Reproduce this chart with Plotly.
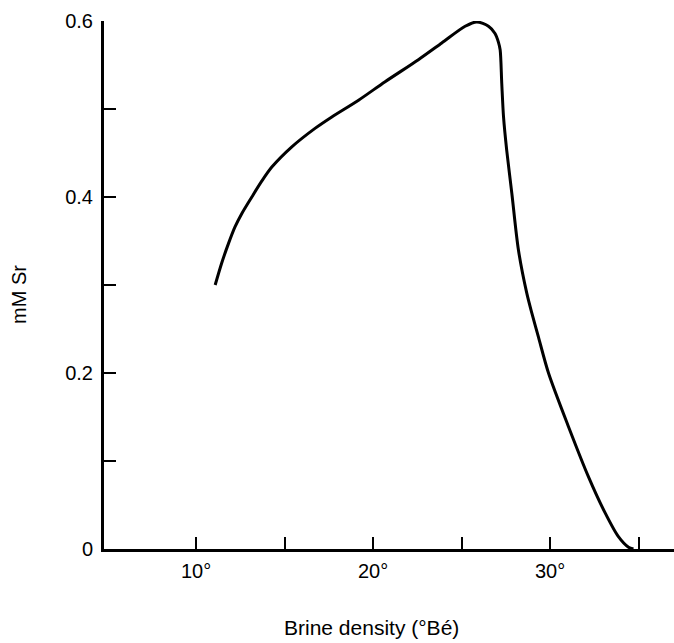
import plotly.graph_objects as go

# Curve (Brine density °Bé, mM Sr)
density = [11.08, 11.45, 11.83, 12.20, 12.58, 13.15, 13.71, 14.28, 15.41, 16.72,
           17.67, 19.18, 20.68, 22.56, 23.88, 25.20, 25.86, 26.52, 26.88, 27.08,
           27.18, 27.27, 27.37, 27.55, 27.84, 28.21, 28.68, 28.97, 29.34, 29.91,
           31.04, 32.17, 33.11, 33.86, 34.43, 34.71]
sr_mM = [0.300, 0.325, 0.347, 0.366, 0.381, 0.400, 0.418, 0.434, 0.457, 0.478,
         0.491, 0.510, 0.531, 0.556, 0.575, 0.594, 0.599, 0.594, 0.586, 0.576,
         0.567, 0.529, 0.491, 0.453, 0.404, 0.340, 0.291, 0.268, 0.241, 0.200,
         0.139, 0.082, 0.041, 0.014, 0.002, 0.000]

x_tickvals = [10, 15, 20, 25, 30, 35]
x_ticktext = ["10°", "", "20°", "", "30°", ""]
y_tickvals = [0, 0.1, 0.2, 0.3, 0.4, 0.5, 0.6]
y_ticktext = ["0", "", "0.2", "", "0.4", "", "0.6"]

x_title = "Brine density (°Bé)"
y_title = "mM Sr"

fig = go.Figure()
fig.add_trace(go.Scatter(
    x=density, y=sr_mM, mode="lines",
    line=dict(color="black", width=3, shape="spline", smoothing=0.8),
    showlegend=False, hoverinfo="skip",
))

family = "Liberation Sans, Arial, sans-serif"

fig.update_layout(
    width=674, height=643,
    margin=dict(l=104, r=0, t=21, b=94),
    paper_bgcolor="white", plot_bgcolor="white",
    font=dict(family=family, size=20, color="black"),
)
fig.update_xaxes(
    range=[4.8, 37.0], showgrid=False, zeroline=False,
    showline=True, linecolor="black", linewidth=3,
    ticks="inside", ticklen=12, tickwidth=2, tickcolor="black",
    tickvals=x_tickvals, ticktext=x_ticktext,
    tickfont=dict(family=family, size=20, color="black"),
    ticklabelstandoff=2,
)
fig.update_yaxes(
    range=[0, 0.6], showgrid=False, zeroline=False,
    showline=True, linecolor="black", linewidth=3,
    ticks="inside", ticklen=12, tickwidth=2, tickcolor="black",
    tickvals=y_tickvals, ticktext=y_ticktext,
    tickfont=dict(family=family, size=20, color="black"),
    ticklabelstandoff=4,
)
fig.add_annotation(
    text=x_title, xref="paper", yref="paper", x=0.47, y=0,
    xanchor="center", yanchor="middle", yshift=-78, showarrow=False,
    font=dict(family=family, size=21, color="black"),
)
fig.add_annotation(
    text=y_title, xref="paper", yref="paper", x=0, y=0.5,
    xanchor="center", yanchor="middle", xshift=-85, yshift=-10,
    textangle=-90, showarrow=False,
    font=dict(family=family, size=20, color="black"),
)

fig.write_html("out.html")
